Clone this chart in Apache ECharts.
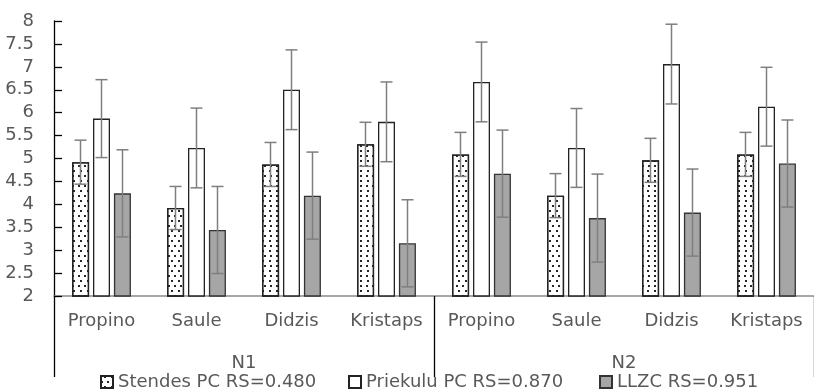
<!DOCTYPE html>
<html>
<head>
<meta charset="utf-8">
<script src="https://cdn.jsdelivr.net/npm/echarts@6/dist/echarts.min.js"></script>
<style>
html,body{margin:0;padding:0;background:#fff;}
#chart{width:814px;height:390px;}
</style>
</head>
<body>
<div id="chart"></div>
<script>
const categories = ['Propino','Saule','Didzis','Kristaps','Propino','Saule','Didzis','Kristaps'];
const groups = ['N1','N2'];
const seriesNames = ['Stendes PC RS=0.480','Priekulu PC RS=0.870','LLZC RS=0.951'];
const stendes = [4.92, 3.92, 4.87, 5.31, 5.09, 4.19, 4.96, 5.09];
const stendesErr = [0.48, 0.47, 0.48, 0.48, 0.48, 0.48, 0.48, 0.48];
const priekulu = [5.87, 5.23, 6.50, 5.80, 6.67, 5.23, 7.06, 6.13];
const priekuluErr = [0.85, 0.87, 0.87, 0.87, 0.87, 0.86, 0.87, 0.86];
const llzc = [4.24, 3.44, 4.19, 3.15, 4.67, 3.70, 3.82, 4.89];
const llzcErr = [0.95, 0.95, 0.95, 0.95, 0.95, 0.96, 0.95, 0.95];

const FONT = 'DejaVu Sans';
const FS = 18;
const TXT = '#595959';
const BARW = 17;
const STEP = 21;

function errSeries(vals, errs, offset) {
  return {
    type: 'custom',
    z: 10,
    silent: true,
    data: vals.map((v, i) => [i, v - errs[i], v + errs[i]]),
    renderItem: function (params, api) {
      const lo = api.coord([api.value(0), api.value(1)]);
      const hi = api.coord([api.value(0), api.value(2)]);
      const x = lo[0] + offset;
      const cw = 6;
      const st = { stroke: '#7f7f7f', lineWidth: 1.5, fill: null };
      return {
        type: 'group',
        children: [
          { type: 'line', shape: { x1: x, y1: lo[1], x2: x, y2: hi[1] }, style: st },
          { type: 'line', shape: { x1: x - cw, y1: lo[1], x2: x + cw, y2: lo[1] }, style: st },
          { type: 'line', shape: { x1: x - cw, y1: hi[1], x2: x + cw, y2: hi[1] }, style: st }
        ]
      };
    }
  };
}

const dotDecal = {
  symbol: 'rect',
  symbolSize: 1,
  color: '#262626',
  dashArrayX: [[1.5, 4], [0, 2.75, 1.5, 1.25]],
  dashArrayY: [1.5, 3],
  rotation: 0
};

const chart = echarts.init(document.getElementById('chart'), null, { renderer: 'canvas' });
const legendBase = {
  orient: 'horizontal',
  top: 373,
  itemWidth: 12,
  itemHeight: 12,
  icon: 'rect',
  selectedMode: false,
  padding: 0,
  textStyle: { fontFamily: FONT, fontSize: FS, color: TXT }
};
chart.setOption({
  animation: false,
  backgroundColor: '#fff',
  grid: { left: 54, top: 21, right: -9, bottom: 94, containLabel: false },
  legend: [
    Object.assign({}, legendBase, { left: 100, data: [seriesNames[0]] }),
    Object.assign({}, legendBase, { left: 348, data: [seriesNames[1]] }),
    Object.assign({}, legendBase, { left: 599, data: [seriesNames[2]] })
  ],
  xAxis: [
    {
      type: 'category',
      position: 'bottom',
      data: categories,
      axisLine: { show: true, lineStyle: { color: '#8a8a8a', width: 1.5 } },
      axisTick: { show: false },
      axisLabel: { margin: 16, fontFamily: FONT, fontSize: FS, color: TXT, interval: 0 }
    },
    {
      type: 'category',
      position: 'bottom',
      data: groups,
      axisLine: { show: false },
      axisTick: { show: true, length: 81, lineStyle: { color: '#000', width: 1.3 } },
      axisLabel: { margin: 58, fontFamily: FONT, fontSize: FS, color: TXT }
    }
  ],
  yAxis: {
    type: 'value',
    min: 2,
    max: 8,
    interval: 0.5,
    axisLine: { show: true, lineStyle: { color: '#000', width: 1.3 } },
    axisTick: { show: true, inside: true, length: 8, lineStyle: { color: '#000', width: 1.3 } },
    splitLine: { show: false },
    axisLabel: { margin: 20, fontFamily: FONT, fontSize: FS, color: TXT }
  },
  series: [
    {
      name: seriesNames[0], type: 'bar', data: stendes, barWidth: BARW, barGap: '23%',
      itemStyle: { color: '#ffffff', borderColor: '#222', borderWidth: 1.3, decal: dotDecal }
    },
    {
      name: seriesNames[1], type: 'bar', data: priekulu, barWidth: BARW, barGap: '23%',
      itemStyle: { color: '#ffffff', borderColor: '#222', borderWidth: 1.3 }
    },
    {
      name: seriesNames[2], type: 'bar', data: llzc, barWidth: BARW, barGap: '23%',
      itemStyle: { color: '#a6a6a6', borderColor: '#333', borderWidth: 1.3 }
    },
    errSeries(stendes, stendesErr, -STEP),
    errSeries(priekulu, priekuluErr, 0),
    errSeries(llzc, llzcErr, STEP)
  ]
});
</script>
</body>
</html>
